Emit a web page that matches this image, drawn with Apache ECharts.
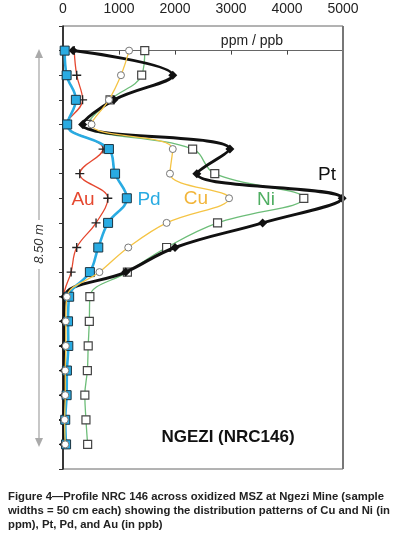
<!DOCTYPE html>
<html>
<head>
<meta charset="utf-8">
<script src="https://cdn.jsdelivr.net/npm/echarts@6/dist/echarts.min.js"></script>
<style>
  html, body { margin: 0; padding: 0; background: #fff; }
  #chart { position: absolute; left: 0; top: 0; width: 393px; height: 544px; }
  #caption {
    position: absolute; left: 8px; top: 489px; width: 385px;
    font-family: "Liberation Sans", Arial, sans-serif; font-weight: bold;
    font-size: 11.3px; line-height: 14px; color: #222; white-space: nowrap;
  }
</style>
</head>
<body>
<div id="chart"></div>
<div id="caption">Figure 4—Profile NRC 146 across oxidized MSZ at Ngezi Mine (sample<br>widths = 50 cm each) showing the distribution patterns of Cu and Ni (in<br>ppm), Pt, Pd, and Au (in ppb)</div>
<script>
// sample rows, 50 cm each, top to bottom
const rows = [0, 1, 2, 3, 4, 5, 6, 7, 8, 9, 10, 11, 12, 13, 14, 15, 16];

// Cu, Ni in ppm; Pt, Pd, Au in ppb
const pt = [180, 1960, 910, 350, 2980, 2390, 4985, 3565, 2000, 1120, 30, 20, 20, 20, 20, 15, 15];
const pd = [30, 65, 230, 75, 820, 930, 1140, 805, 630, 480, 110, 90, 95, 70, 65, 40, 55];
const au = [200, 245, 350, 65, 715, 300, 800, 590, 245, 145, 15, 10, 10, 10, 10, 10, 10];
const cu = [1180, 1035, 820, 510, 1960, 1910, 2965, 1850, 1165, 650, 70, 50, 50, 40, 40, 30, 40];
const ni = [1460, 1405, 840, 440, 2315, 2710, 4300, 2760, 1850, 1150, 480, 470, 450, 435, 390, 410, 440];

const xTicks = [0, 1000, 2000, 3000, 4000, 5000];

function pairs(vals) {
    return vals.map((v, i) => [v, rows[i]]);
}

const chart = echarts.init(document.getElementById('chart'));

const font = '"Liberation Sans", Arial, sans-serif';
const plus = 'path://M4,0h1.4v4h4v1.4h-4v4h-1.4v-4h-4v-1.4h4z';

let option = {
    animation: false,
    grid: {
        left: 63, top: 26, width: 280, height: 443,
        show: true, borderColor: '#666', borderWidth: 1
    },
    xAxis: {
        type: 'value', position: 'top',
        min: 0, max: 5000, interval: 1000,
        axisLine: { show: true, lineStyle: { color: '#666', width: 1 } },
        axisTick: { show: true, inside: true, length: 4, lineStyle: { color: '#444' } },
        splitLine: { show: false },
        axisLabel: {
            margin: 10, color: '#222', fontSize: 14, fontFamily: font,
            formatter: v => xTicks.indexOf(v) >= 0 ? String(v) : ''
        }
    },
    yAxis: {
        type: 'value', inverse: true,
        min: -1, max: 17, interval: 1,
        axisLine: { show: true, lineStyle: { color: '#111', width: 1.5 } },
        axisTick: { show: true, inside: false, length: 4, lineStyle: { color: '#333' } },
        splitLine: { show: false },
        axisLabel: { show: false }
    },
    series: [
        {
            name: 'Ni', type: 'line', data: pairs(ni), smooth: 0.4,
            lineStyle: { color: '#6cbd78', width: 1.3 },
            symbol: 'rect', symbolSize: 8,
            itemStyle: { color: '#fff', borderColor: '#444', borderWidth: 1.2 },
            z: 2
        },
        {
            name: 'Au', type: 'line', data: pairs(au), smooth: 0.4,
            lineStyle: { color: '#e5472f', width: 1.3 },
            symbol: plus, symbolSize: 9,
            itemStyle: { color: '#222', borderWidth: 0 },
            z: 3
        },
        {
            name: 'Pt', type: 'line', data: pairs(pt), smooth: 0.4,
            lineStyle: { color: '#111', width: 3 },
            symbol: 'diamond', symbolSize: 9,
            itemStyle: { color: '#111', borderWidth: 0 },
            z: 4
        },
        {
            name: 'Pd', type: 'line', data: pairs(pd), smooth: 0.4,
            lineStyle: { color: '#29abe2', width: 2.6 },
            symbol: 'rect', symbolSize: 9,
            itemStyle: { color: '#29abe2', borderColor: '#1c3440', borderWidth: 1 },
            z: 5
        },
        {
            name: 'Cu', type: 'line', data: pairs(cu), smooth: 0.4,
            lineStyle: { color: '#f5c445', width: 1.3 },
            symbol: 'circle', symbolSize: 7,
            itemStyle: { color: '#fff', borderColor: '#777', borderWidth: 1 },
            z: 6
        }
    ],
    graphic: [
        // thicker grey right frame
        { type: 'line', shape: { x1: 343, y1: 26, x2: 343, y2: 469 }, style: { stroke: '#777', lineWidth: 2 }, z: 10 },
        { type: 'text', x: 252, y: 41, style: { text: 'ppm / ppb', font: '14px ' + font, fill: '#222', align: 'center', verticalAlign: 'middle' } },
        { type: 'text', x: 83, y: 200, style: { text: 'Au', font: '19px ' + font, fill: '#e5472f', align: 'center', verticalAlign: 'middle' } },
        { type: 'text', x: 149, y: 200, style: { text: 'Pd', font: '19px ' + font, fill: '#29abe2', align: 'center', verticalAlign: 'middle' } },
        { type: 'text', x: 196, y: 199, style: { text: 'Cu', font: '19px ' + font, fill: '#f2b53a', align: 'center', verticalAlign: 'middle' } },
        { type: 'text', x: 266, y: 200, style: { text: 'Ni', font: '19px ' + font, fill: '#4fae62', align: 'center', verticalAlign: 'middle' } },
        { type: 'text', x: 327, y: 175, style: { text: 'Pt', font: '19px ' + font, fill: '#111', align: 'center', verticalAlign: 'middle' } },
        { type: 'text', x: 228, y: 437, style: { text: 'NGEZI (NRC146)', font: 'bold 17px ' + font, fill: '#111', align: 'center', verticalAlign: 'middle' } },
        // 8.50 m thickness arrow
        { type: 'line', shape: { x1: 39, y1: 56, x2: 39, y2: 220 }, style: { stroke: '#aaa', lineWidth: 1.3 } },
        { type: 'line', shape: { x1: 39, y1: 269, x2: 39, y2: 440 }, style: { stroke: '#aaa', lineWidth: 1.3 } },
        { type: 'polygon', shape: { points: [[39, 49], [35, 58], [43, 58]] }, style: { fill: '#aaa' } },
        { type: 'polygon', shape: { points: [[39, 447], [35, 438], [43, 438]] }, style: { fill: '#aaa' } },
        { type: 'text', x: 39, y: 244, rotation: Math.PI / 2, style: { text: '8.50 m', font: 'italic 13px ' + font, fill: '#333', align: 'center', verticalAlign: 'middle' } }
    ]
};

chart.setOption(option);
</script>
</body>
</html>
